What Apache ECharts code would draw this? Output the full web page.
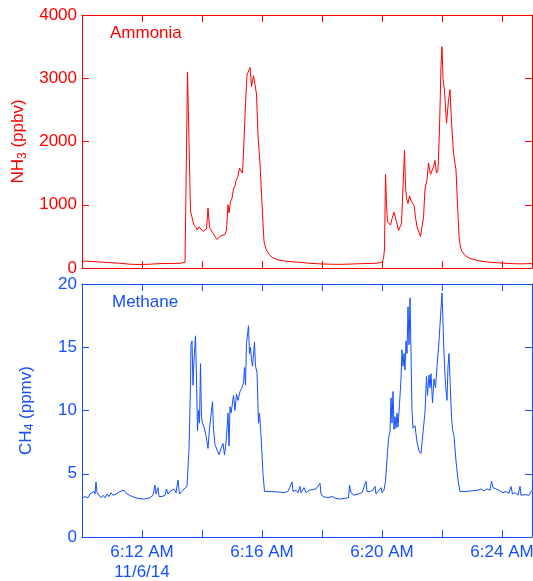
<!DOCTYPE html>
<html>
<head>
<meta charset="utf-8">
<script src="https://cdn.jsdelivr.net/npm/echarts@6/dist/echarts.min.js"></script>
<style>
  html, body { margin: 0; padding: 0; background: #fff; }
  #main { width: 533px; height: 581px; }
</style>
</head>
<body>
<div id="main"></div>
<script>
// time is seconds after 6:10:00 AM, 11/6/14
var nh3Sec = [0, 16, 36, 56, 76, 96, 116, 136, 156, 176, 196, 206, 208, 211, 214, 217, 220, 224, 228, 230,
  234, 238, 242, 246, 249, 252, 255, 258, 262, 266, 270, 274, 278, 282, 286, 289, 292, 294, 297, 300,
  303, 306, 308, 312, 315, 318, 321, 324, 327, 330, 333, 336, 339, 343, 346, 349, 352, 356, 359, 362,
  364, 368, 372, 376, 382, 388, 396, 416, 436, 456, 476, 496, 516, 536, 556, 576, 592, 600, 603, 605,
  607, 609, 611, 614, 617, 620, 624, 627, 630, 633, 636, 639, 642, 645, 647, 649, 652, 655, 658, 661,
  664, 667, 670, 674, 677, 680, 683, 686, 690, 693, 697, 700, 703, 706, 709, 712, 715, 718, 720, 722,
  725, 729, 733, 736, 739, 743, 746, 748, 751, 754, 757, 760, 766, 776, 796, 816, 836, 856, 876, 900]
var nh3Ppb = [110, 105, 95, 85, 75, 60, 55, 60, 70, 70, 75, 90, 100, 3100, 2000, 900, 800, 680, 640, 600,
  650, 620, 580, 590, 620, 950, 640, 600, 550, 500, 450, 470, 510, 500, 530, 600, 1000, 870, 1050, 1100,
  1250, 1300, 1380, 1450, 1580, 1550, 1500, 2000, 2600, 3050, 3060, 3170, 2870, 3040, 2900, 2750, 2100, 1650, 1630, 700,
  420, 300, 240, 200, 160, 140, 120, 100, 90, 75, 65, 60, 58, 62, 68, 72, 78, 90, 150, 300,
  1480, 1000, 730, 700, 680, 780, 880, 850, 700, 590, 650, 700, 720, 1860, 1300, 1100, 1020, 1140, 1060, 1050,
  990, 800, 650, 560, 500, 520, 800, 1250, 1400, 1660, 1480, 1480, 1600, 1700, 1500, 1550, 2200, 3200, 3500, 3000,
  2800, 2290, 2650, 2820, 2300, 1820, 1650, 1550, 1000, 500, 330, 260, 200, 150, 110, 90, 80, 70, 65, 70]

var ch4Sec = [0, 6, 12, 16, 20, 24, 26, 28, 30, 34, 38, 42, 46, 50, 54, 58, 62, 68, 76, 84,
  90, 100, 112, 124, 136, 142, 146, 148, 152, 154, 160, 166, 169, 172, 176, 180, 184, 188, 192, 195,
  200, 204, 208, 210, 214, 217, 218, 220, 222, 224, 227, 229, 231, 233, 235, 237, 239, 241, 244, 248,
  252, 255, 258, 261, 263, 266, 270, 274, 278, 282, 285, 288, 290, 292, 294, 296, 298, 300, 303, 306,
  309, 312, 316, 320, 323, 325, 327, 329, 333, 335, 337, 339, 341, 345, 347, 350, 353, 355, 358, 362,
  365, 376, 396, 404, 412, 416, 420, 422, 428, 432, 436, 438, 444, 448, 454, 458, 468, 476, 478, 482,
  492, 500, 508, 516, 524, 533, 535, 538, 544, 552, 560, 564, 568, 570, 576, 582, 586, 588, 592, 598,
  600, 604, 607, 610, 613, 616, 618, 620, 622, 624, 626, 628, 630, 632, 635, 638, 640, 642, 644, 646,
  648, 650, 652, 654, 656, 658, 660, 662, 666, 670, 674, 678, 682, 686, 689, 691, 694, 696, 698, 701,
  704, 707, 710, 714, 717, 720, 722, 724, 727, 730, 732, 734, 736, 739, 741, 744, 748, 752, 756, 768,
  780, 792, 798, 804, 810, 816, 819, 822, 828, 836, 842, 848, 854, 858, 861, 866, 872, 876, 878, 886,
  894, 900]
var ch4Ppm = [3.05, 3.2, 3.1, 3.4, 3.3, 3.6, 3.4, 4.35, 3.5, 3.4, 3.1, 3.3, 3.1, 3.4, 3.2, 3.5, 3.3, 3.4, 3.6, 3.7,
  3.4, 3.2, 3.05, 3.0, 3.1, 3.3, 4.1, 3.4, 3.9, 3.2, 3.2, 3.3, 3.8, 3.4, 3.6, 3.5, 3.8, 3.5, 4.5, 3.4,
  3.6, 3.8, 3.9, 4.0, 7.0, 12, 15.2, 15.5, 12, 14, 15.9, 12.5, 8.4, 10, 9, 13.7, 9.5, 9.0, 8.7, 8.0,
  7.0, 8.6, 8.5, 10.7, 8.5, 7.3, 7.2, 6.5, 7.0, 7.4, 6.5, 7.5, 8.5, 9.8, 7.2, 10.3, 9.8, 10.3, 11.2, 10.0,
  11.3, 10.8, 11.5, 11.8, 12.2, 13.4, 12.0, 15.3, 16.7, 14.5, 15.0, 14.0, 13.5, 15.4, 13.5, 13.0, 9.0, 9.8, 8.0, 5.0,
  3.6, 3.6, 3.55, 3.5, 3.6, 3.7, 4.35, 3.6, 3.7, 3.5, 4.0, 3.5, 3.9, 3.5, 3.7, 3.6, 3.8, 4.25, 3.4, 3.2,
  3.1, 3.2, 3.05, 3.0, 3.05, 3.1, 4.1, 3.5, 3.3, 3.4, 3.5, 3.6, 4.4, 3.6, 3.6, 3.7, 4.0, 3.4, 3.6, 3.9,
  3.5, 3.7, 4.4, 4.5, 7.8, 8.3, 11.0, 9.0, 11.5, 8.5, 9.5, 8.6, 9.8, 8.7, 10.5, 12.5, 14.8, 13.5, 14.5, 13.2,
  15.5, 14.5, 18.2, 15.2, 18.9, 14.5, 10.0, 8.6, 8.8, 7.5, 6.8, 6.6, 6.6, 9.9, 12.7, 11.2, 12.8, 11.8, 12.9, 10.6,
  12.5, 11.8, 13.5, 15.5, 17.4, 19.3, 17.0, 14.5, 12.0, 10.8, 13.5, 14.5, 12.5, 9.5, 8.5, 8.0, 6.0, 4.5, 3.6, 3.6,
  3.65, 3.7, 3.8, 3.65, 3.8, 3.7, 4.4, 3.9, 3.8, 3.65, 3.5, 3.6, 3.45, 4.0, 3.4, 3.5, 3.3, 4.0, 3.3, 3.35,
  3.3, 3.7]

var xLabels = { 372: '6:12 AM\n11/6/14', 376: '6:16 AM', 380: '6:20 AM', 384: '6:24 AM' }

var RED = '#ff0000'
var BLUE = '#1450ff'
var FONT = '"Liberation Sans", Arial, Helvetica, sans-serif'
var START = 370 // 6:10 AM in minutes after midnight

function toPoints(sec, vals) {
  return sec.map(function(s, i) { return [START + s / 60, vals[i]] })
}

function xAxisPair(grid, color, labels) {
  var base = {
    type: 'value',
    gridIndex: grid,
    min: 370,
    max: 385,
    interval: 2,
    axisLine: { show: true, onZero: false, lineStyle: { color: color, width: 1 } },
    axisTick: { show: true, inside: true, length: 7, lineStyle: { color: color } },
    splitLine: { show: false }
  }
  var bottom = Object.assign({}, base, {
    position: 'bottom',
    axisLabel: labels ? {
      show: true, color: color, fontSize: 17, fontFamily: FONT, margin: 5, lineHeight: 20,
      hideOverlap: false,
      formatter: function(v) { return xLabels[v] || '' }
    } : { show: false }
  })
  var top = Object.assign({}, base, { position: 'top', axisLabel: { show: false } })
  return [bottom, top]
}

function yAxisPair(grid, color, max, interval, name, gap) {
  var left = {
    type: 'value',
    gridIndex: grid,
    position: 'left',
    min: 0,
    max: max,
    interval: interval,
    axisLine: { show: true, lineStyle: { color: color, width: 1 } },
    axisTick: { show: true, inside: true, length: 7, lineStyle: { color: color } },
    axisLabel: {
      color: color, fontSize: 17, fontFamily: FONT, margin: 5,
      formatter: function(v) { return String(v) }
    },
    splitLine: { show: false },
    name: name,
    nameLocation: 'middle',
    nameRotate: 90,
    nameGap: gap,
    nameTextStyle: {
      color: color,
      fontFamily: FONT,
      rich: {
        a: { fontSize: 17, color: color, fontFamily: FONT, lineHeight: 20 },
        s: { fontSize: 12, color: color, fontFamily: FONT, lineHeight: 12, verticalAlign: 'bottom' }
      }
    }
  }
  var right = {
    type: 'value',
    gridIndex: grid,
    position: 'right',
    min: 0,
    max: max,
    interval: interval,
    axisLine: { show: true, lineStyle: { color: color, width: 1 } },
    axisTick: { show: true, inside: true, length: 7, lineStyle: { color: color } },
    axisLabel: { show: false },
    splitLine: { show: false }
  }
  return [left, right]
}

var chart = echarts.init(document.getElementById('main'))
chart.setOption({
  animation: false,
  backgroundColor: '#fff',
  grid: [
    { left: 82, top: 15, width: 450, height: 253, containLabel: false, outerBoundsMode: 'none' },
    { left: 82, top: 284, width: 450, height: 253, containLabel: false, outerBoundsMode: 'none' }
  ],
  xAxis: xAxisPair(0, RED, false).concat(xAxisPair(1, BLUE, true)),
  yAxis: yAxisPair(0, RED, 4000, 1000, '{a|NH}{s|3}{a| (ppbv)}', 47)
    .concat(yAxisPair(1, BLUE, 20, 5, '{a|CH}{s|4}{a| (ppmv)}', 46)),
  graphic: [
    { type: 'text', left: 110, top: 25, style: { text: 'Ammonia', fill: RED, font: '17px ' + FONT } },
    { type: 'text', left: 112, top: 294, style: { text: 'Methane', fill: BLUE, font: '17px ' + FONT } }
  ],
  series: [
    {
      type: 'line', xAxisIndex: 0, yAxisIndex: 0,
      data: toPoints(nh3Sec, nh3Ppb),
      showSymbol: false,
      lineStyle: { color: RED, width: 1 }
    },
    {
      type: 'line', xAxisIndex: 2, yAxisIndex: 2,
      data: toPoints(ch4Sec, ch4Ppm),
      showSymbol: false,
      lineStyle: { color: BLUE, width: 1 }
    }
  ]
})
</script>
</body>
</html>
